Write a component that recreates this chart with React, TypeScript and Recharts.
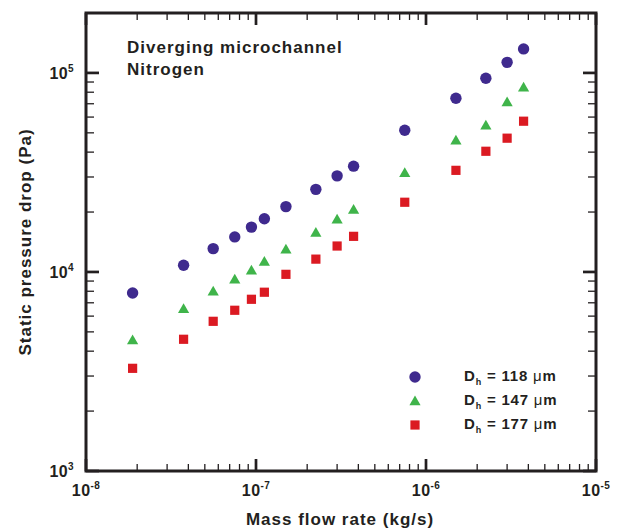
import React from 'react';
import {
  ScatterChart, Scatter, XAxis, YAxis, ReferenceArea, Legend, Customized,
} from 'recharts';

// mass flow rate (kg/s), shared by all three channels
const massFlow = [
  1.88e-8, 3.75e-8, 5.6e-8, 7.5e-8, 9.4e-8, 1.12e-7, 1.5e-7, 2.25e-7,
  3.0e-7, 3.75e-7, 7.5e-7, 1.5e-6, 2.25e-6, 3.0e-6, 3.75e-6,
];

// static pressure drop (Pa)
const dp118 = [7840, 10800, 13100, 15000, 16800, 18500, 21300, 26000, 30400, 34000, 51500, 74600, 94000, 113000, 132000];
const dp147 = [4550, 6540, 8000, 9190, 10200, 11300, 13000, 15800, 18400, 20600, 31500, 45900, 54600, 71500, 84800];
const dp177 = [3280, 4590, 5650, 6420, 7290, 7910, 9730, 11600, 13500, 15100, 22400, 32400, 40400, 47000, 57200];

const xDecades = [1e-8, 1e-7, 1e-6, 1e-5];
const xExponents = ['-8', '-7', '-6', '-5'];
const yDecades = [1e3, 1e4, 1e5];
const yExponents = ['3', '4', '5'];
const X_DOMAIN = [1e-8, 1e-5];
const Y_DOMAIN = [1e3, 2e5];

const SERIES = [
  { name: '118', values: dp118, color: '#3f2a8e', shape: 'circle' },
  { name: '147', values: dp147, color: '#3fb44a', shape: 'triangle' },
  { name: '177', values: dp177, color: '#db1a22', shape: 'square' },
];

const INK = '#231f20';
const FONT = '"Liberation Sans", Arial, Helvetica, sans-serif';

const logTicks = (decades: number[]) => {
  const out: number[] = [];
  decades.forEach((d, i) => {
    out.push(d);
    if (i < decades.length - 1) for (let k = 2; k <= 9; k++) out.push(d * k);
  });
  return out;
};
const xTicks = logTicks(xDecades);
const yTicks = logTicks(yDecades);

const majorIndex = (decades: number[], v: number) =>
  decades.findIndex(d => Math.abs(v / d - 1) < 1e-6);

function Marker({ shape, cx, cy, color }: any) {
  if (cx == null || cy == null) return null;
  if (shape === 'circle') return <circle cx={cx} cy={cy} r={5.7} fill={color} />;
  if (shape === 'triangle') {
    return <polygon points={`${cx},${cy - 5.5} ${cx + 5.6},${cy + 4.3} ${cx - 5.6},${cy + 4.3}`} fill={color} />;
  }
  return <rect x={cx - 4.6} y={cy - 4.6} width={9.2} height={9.2} fill={color} />;
}

const tickText = { fontFamily: FONT, fontWeight: 700, fontSize: 16, fill: INK, letterSpacing: 0.4 } as const;

function BottomTick({ x, y, payload }: any) {
  const i = majorIndex(xDecades, payload.value);
  const major = i >= 0;
  return (
    <g>
      <line x1={x} x2={x} y1={y} y2={y - (major ? 12 : 7)} stroke={INK} strokeWidth={major ? 2.7 : 1.3} />
      {major && (
        <text x={x} y={y + 25} textAnchor="middle" {...tickText}>
          10<tspan dy={-7} fontSize={10}>{xExponents[i]}</tspan>
        </text>
      )}
    </g>
  );
}

function TopTick({ x, y, payload }: any) {
  const major = majorIndex(xDecades, payload.value) >= 0;
  return <line x1={x} x2={x} y1={y} y2={y + (major ? 12 : 7)} stroke={INK} strokeWidth={major ? 2.7 : 1.3} />;
}

function LeftTick({ x, y, payload }: any) {
  const i = majorIndex(yDecades, payload.value);
  const major = i >= 0;
  return (
    <g>
      <line x1={x} x2={x + (major ? 13 : 8)} y1={y} y2={y} stroke={INK} strokeWidth={major ? 2.7 : 1.3} />
      {major && (
        <text x={x - 12} y={y + 6} textAnchor="end" {...tickText}>
          10<tspan dy={-7} fontSize={10}>{yExponents[i]}</tspan>
        </text>
      )}
    </g>
  );
}

function RightTick({ x, y, payload }: any) {
  const major = majorIndex(yDecades, payload.value) >= 0;
  return <line x1={x} x2={x - (major ? 13 : 8)} y1={y} y2={y} stroke={INK} strokeWidth={major ? 2.7 : 1.3} />;
}

const titleText = { fontFamily: FONT, fontWeight: 700, fontSize: 17, fill: INK, letterSpacing: 1 } as const;

function LegendBox({ payload }: any) {
  return (
    <div style={{ fontFamily: FONT, fontWeight: 700, fontSize: 15, color: INK }}>
      {(payload || []).map((entry: any) => {
        const s = SERIES.find(k => k.name === entry.value);
        if (!s) return null;
        return (
          <div key={s.name} style={{ display: 'flex', alignItems: 'center', height: 24 }}>
            <svg width={20} height={24} style={{ display: 'block' }}>
              <Marker shape={s.shape} cx={10} cy={12} color={s.color} />
            </svg>
            <span style={{ marginLeft: 39, letterSpacing: 0.8, whiteSpace: 'nowrap', lineHeight: '24px' }}>
              D<span style={{ fontSize: 9, position: 'relative', top: 4 }}>h</span> = {s.name}{' '}
              <span style={{ fontWeight: 400 }}>μ</span>m
            </span>
          </div>
        );
      })}
    </div>
  );
}

export default function App() {
  const rows = SERIES.map(s => s.values.map((v, i) => ({ x: massFlow[i], y: v })));

  return (
    <div style={{ position: 'absolute', left: 0, top: 0, width: 618, height: 529, background: '#fff' }}>
      <ScatterChart width={618} height={529} margin={{ top: 0, right: 0, bottom: 0, left: 0 }}>
        <XAxis
          xAxisId={0} type="number" dataKey="x" scale="log" domain={X_DOMAIN} allowDataOverflow
          ticks={xTicks} interval={0} tickSize={0} tickMargin={0} axisLine={false} tickLine={false}
          height={58} tick={<BottomTick />}
          label={({ viewBox }: any) => (
            <text x={viewBox.x + viewBox.width / 2 - 1} y={viewBox.y + 54} textAnchor="middle" {...titleText}>
              Mass flow rate (kg/s)
            </text>
          )}
        />
        <XAxis
          xAxisId="top" orientation="top" type="number" dataKey="x" scale="log" domain={X_DOMAIN} allowDataOverflow
          ticks={xTicks} interval={0} tickSize={0} tickMargin={0} axisLine={false} tickLine={false}
          height={13} tick={<TopTick />}
        />
        <YAxis
          yAxisId={0} type="number" dataKey="y" scale="log" domain={Y_DOMAIN} allowDataOverflow
          ticks={yTicks} interval={0} tickSize={0} tickMargin={0} axisLine={false} tickLine={false}
          width={86} tick={<LeftTick />}
          label={({ viewBox }: any) => {
            const cx = viewBox.x + 31;
            const cy = viewBox.y + viewBox.height / 2;
            return (
              <text x={cx} y={cy} textAnchor="middle" transform={`rotate(-90, ${cx}, ${cy})`} {...titleText}>
                Static pressure drop (Pa)
              </text>
            );
          }}
        />
        <YAxis
          yAxisId="right" orientation="right" type="number" dataKey="y" scale="log" domain={Y_DOMAIN} allowDataOverflow
          ticks={yTicks} interval={0} tickSize={0} tickMargin={0} axisLine={false} tickLine={false}
          width={22} tick={<RightTick />}
        />
        <ReferenceArea
          x1={X_DOMAIN[0]} x2={X_DOMAIN[1]} y1={Y_DOMAIN[0]} y2={Y_DOMAIN[1]}
          fill="none" stroke={INK} strokeWidth={3} ifOverflow="visible"
        />
        {SERIES.map((s, k) => (
          <Scatter
            key={s.name} name={s.name} data={rows[k]} fill={s.color} isAnimationActive={false}
            shape={(p: any) => <Marker shape={s.shape} cx={p.cx} cy={p.cy} color={s.color} />}
          />
        ))}
        <Scatter
          name="mirror" data={rows[0]} xAxisId="top" yAxisId="right" legendType="none"
          isAnimationActive={false} shape={() => null}
        />
        <Legend
          layout="vertical" align="center" verticalAlign="middle"
          wrapperStyle={{ left: 405, top: 365, width: 190, height: 72 }}
          content={<LegendBox />}
        />
        <Customized
          component={() => (
            <g>
              <text x={127} y={53} {...titleText}>Diverging microchannel</text>
              <text x={127} y={75} {...titleText}>Nitrogen</text>
            </g>
          )}
        />
      </ScatterChart>
    </div>
  );
}
